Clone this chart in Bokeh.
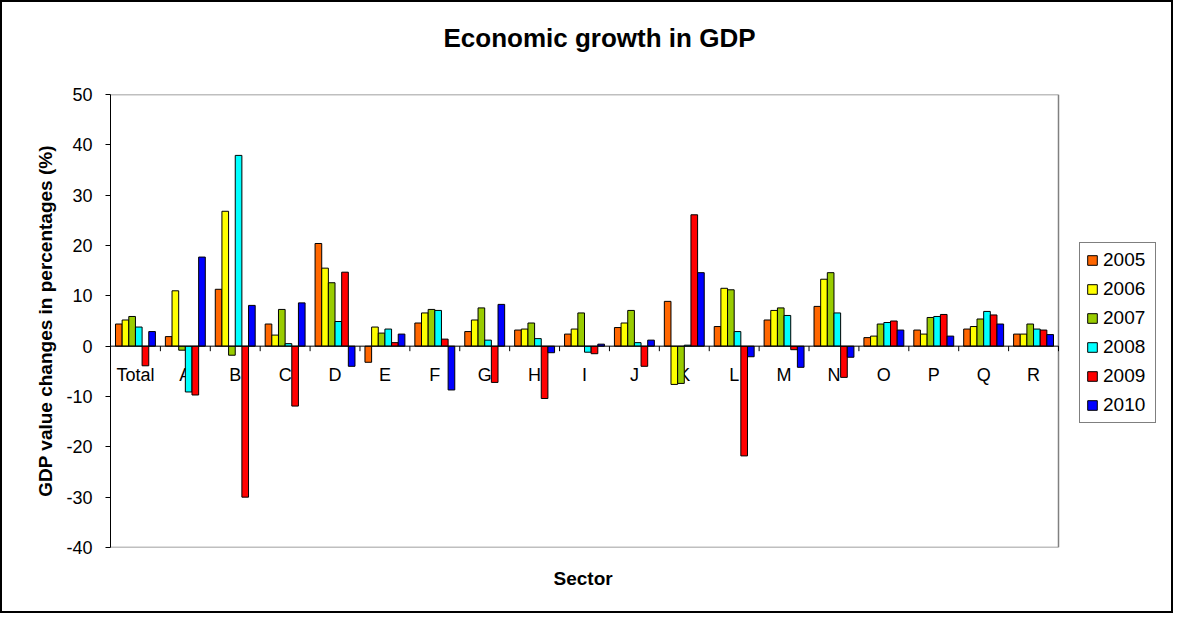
from bokeh.plotting import figure
from bokeh.models import (ColumnDataSource, Range1d, FixedTicker, Legend, LegendItem,
                          PrintfTickFormatter, Title)
from bokeh.core.properties import value
from bokeh.embed import file_html
from bokeh.resources import INLINE

categories = ["Total", "A", "B", "C", "D", "E", "F", "G", "H", "I", "J", "K", "L", "M", "N", "O", "P", "Q", "R"]
years = ["2005", "2006", "2007", "2008", "2009", "2010"]

v2005 = [4.4, 1.9, 11.3, 4.4, 20.4, -3.2, 4.6, 2.9, 3.2, 2.4, 3.7, 8.9, 3.9, 5.2, 7.9, 1.7, 3.2, 3.4, 2.4]
v2006 = [5.2, 11.0, 26.8, 2.2, 15.5, 3.8, 6.6, 5.2, 3.4, 3.4, 4.6, -7.6, 11.5, 7.1, 13.3, 2.0, 2.4, 3.9, 2.4]
v2007 = [5.9, -0.8, -1.8, 7.3, 12.6, 2.6, 7.3, 7.6, 4.6, 6.6, 7.1, -7.4, 11.2, 7.6, 14.6, 4.4, 5.7, 5.4, 4.4]
v2008 = [3.8, -9.1, 37.9, 0.5, 4.9, 3.4, 7.1, 1.2, 1.5, -1.2, 0.7, 0.2, 2.9, 6.1, 6.6, 4.7, 5.9, 6.9, 3.4]
v2009 = [-3.9, -9.7, -30.0, -11.9, 14.7, 0.7, 1.4, -7.2, -10.4, -1.5, -4.0, 26.1, -21.8, -0.7, -6.2, 5.0, 6.3, 6.2, 3.2]
v2010 = [2.9, 17.7, 8.1, 8.6, -4.0, 2.4, -8.7, 8.3, -1.3, 0.4, 1.2, 14.6, -2.1, -4.2, -2.2, 3.2, 2.0, 4.4, 2.3]

series = [v2005, v2006, v2007, v2008, v2009, v2010]
colors = ["#FF6600", "#FFFF00", "#99CC00", "#00FFFF", "#FF0000", "#0000FF"]
y_ticks = [-40, -30, -20, -10, 0, 10, 20, 30, 40, 50]
Y_MIN, Y_MAX = -40, 50

FONT = "Liberation Sans"
n = len(categories)
bar_w = 1.0 / (len(years) + 1.5)

# layout (pixels): plot area is 948 px wide; frame extends further right to host the legend
W, H = 1173, 613
B_LEFT, B_RIGHT, B_TOP, B_BOTTOM = 108, 10, 92, 68
PLOT_PX = 948
FRAME_PX = W - B_LEFT - B_RIGHT
x_end = n * FRAME_PX / PLOT_PX

p = figure(width=W, height=H, output_backend="svg", toolbar_location=None,
           x_range=Range1d(0, x_end), y_range=Range1d(Y_MIN, Y_MAX),
           min_border_left=B_LEFT, min_border_right=B_RIGHT,
           min_border_top=B_TOP, min_border_bottom=B_BOTTOM)
p.styles = {"border": "2px solid black"}

# spacer between frame and title
p.add_layout(Title(text=" ", text_font_size="1px", standoff=37), "above")

p.title.text = "Economic growth in GDP"
p.title.align = "left"
p.title.text_font = FONT
p.title.text_font_size = "26px"
p.title.text_font_style = "bold"
p.title.text_color = "black"
p.title.standoff = 4
p.title.offset = 333

p.xgrid.visible = False
p.ygrid.visible = False
p.outline_line_color = None
p.background_fill_color = "white"
p.border_fill_color = "white"

# y axis
p.yaxis.ticker = FixedTicker(ticks=y_ticks)
p.yaxis.formatter = PrintfTickFormatter(format="%d")
p.yaxis.minor_tick_line_color = None
p.yaxis.major_tick_out = 5
p.yaxis.major_tick_in = 0
p.yaxis.axis_line_color = "black"
p.yaxis.major_tick_line_color = "black"
p.yaxis.major_label_text_font = FONT
p.yaxis.major_label_text_font_size = "18px"
p.yaxis.major_label_text_color = "black"
p.yaxis.major_label_standoff = 13
p.yaxis.axis_label = "GDP value changes in percentages (%)"
p.yaxis.axis_label_text_font = FONT
p.yaxis.axis_label_text_font_size = "19px"
p.yaxis.axis_label_text_font_style = "bold"
p.yaxis.axis_label_text_color = "black"
p.yaxis.axis_label_standoff = 7

p.xaxis.visible = False
sector = Title(text="Sector", align="left", offset=443, standoff=36,
               text_font=FONT, text_font_size="19px", text_font_style="bold", text_color="black")
p.add_layout(sector, "below")

# plot-area border (gray) on top, right and bottom
p.segment(x0=[0, n, 0], y0=[Y_MAX, Y_MIN, Y_MIN], x1=[n, n, n], y1=[Y_MAX, Y_MAX, Y_MIN],
          line_color="#808080", line_width=1.5)

# category labels below the zero line (drawn first, bars over them)
centers = [i + 0.5 for i in range(n)]
lab_src = ColumnDataSource(dict(x=centers, y=[0] * n, t=categories))
p.text(x="x", y="y", text="t", source=lab_src, text_align="center", text_baseline="middle",
       y_offset=29, text_font=value(FONT), text_font_size="18px", text_color="black")

items = []
for k, (yr, vals, col) in enumerate(zip(years, series, colors)):
    xs = [c + (k - 2.5) * bar_w for c in centers]
    src = ColumnDataSource(dict(x=xs, top=vals))
    r = p.vbar(x="x", top="top", bottom=0, width=bar_w, source=src,
               fill_color=col, line_color="black", line_width=1)
    items.append(LegendItem(label=yr, renderers=[r]))

# zero axis line and category tick marks
p.segment(x0=[0], y0=[0], x1=[n], y1=[0], line_color="black", line_width=1)
bounds = list(range(1, n + 1))
p.segment(x0=bounds, y0=[0] * n, x1=bounds, y1=[-1] * n, line_color="black", line_width=1)

legend = Legend(items=items, location=(969, 124), orientation="vertical")
legend.border_line_color = "black"
legend.border_line_width = 1
legend.background_fill_color = "white"
legend.background_fill_alpha = 1
legend.label_text_font = FONT
legend.label_text_font_size = "19px"
legend.label_text_color = "black"
legend.glyph_width = 12
legend.glyph_height = 12
legend.label_height = 22
legend.label_width = 46
legend.label_standoff = 5
legend.spacing = 7
legend.padding = 6
legend.margin = 0
p.add_layout(legend)

open("out.html", "w").write(file_html(p, INLINE))
